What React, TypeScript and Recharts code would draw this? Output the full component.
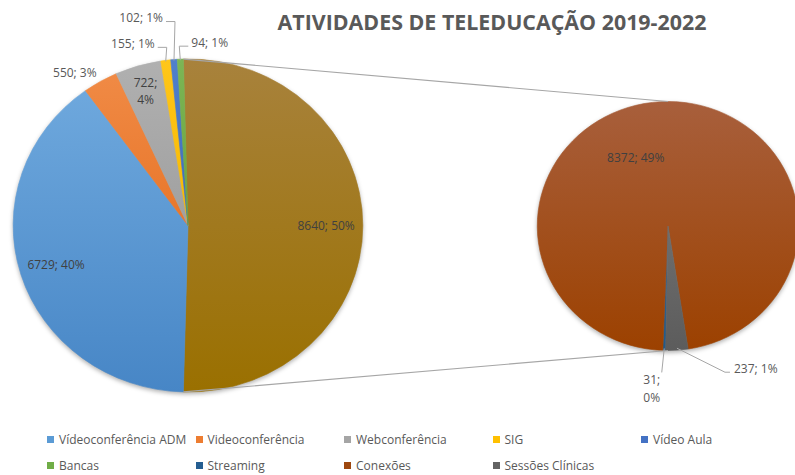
import React from "react";
import { PieChart, Pie, Cell, Sector } from "recharts";

// primary pie (everything except the split-off group)
const primaryNames = ["Vídeoconferência ADM", "Videoconferência", "Webconferência", "SIG", "Vídeo Aula", "Bancas"];
const primaryValues = [6729, 550, 722, 155, 102, 94];
const primaryPct = [40, 3, 4, 1, 1, 1];

// secondary pie (the "other" slice broken down)
const secondaryNames = ["Streaming", "Conexões", "Sessões Clínicas"];
const secondaryValues = [31, 8372, 237];
const secondaryPct = [0, 49, 1];
const otherPct = 50;

const legendOrder = [
  "Vídeoconferência ADM",
  "Videoconferência",
  "Webconferência",
  "SIG",
  "Vídeo Aula",
  "Bancas",
  "Streaming",
  "Conexões",
  "Sessões Clínicas",
];

const colors: Record<string, [string, string]> = {
  "Vídeoconferência ADM": ["#6ea8dd", "#4786c6"],
  "Videoconferência": ["#f08a45", "#e8762a"],
  "Webconferência": ["#b0b0b0", "#a0a0a0"],
  "SIG": ["#ffc61a", "#f7b900"],
  "Vídeo Aula": ["#5080cc", "#3f6bbb"],
  "Bancas": ["#7cb655", "#68a33f"],
  "Streaming": ["#2f6a9e", "#225988"],
  "Conexões": ["#a85f3c", "#9c4100"],
  "Sessões Clínicas": ["#6e6e6e", "#5c5c5c"],
  Outros: ["#a8823c", "#9a7000"],
};
const legendColors: Record<string, string> = {
  "Vídeoconferência ADM": "#5b9bd5",
  "Videoconferência": "#ed7d31",
  "Webconferência": "#a5a5a5",
  "SIG": "#ffc000",
  "Vídeo Aula": "#4472c4",
  "Bancas": "#70ad47",
  "Streaming": "#255e91",
  "Conexões": "#9e480e",
  "Sessões Clínicas": "#636363",
};

const gid = (name: string) => "g" + legendOrder.concat(["Outros"]).indexOf(name);

const otherTotal = secondaryValues.reduce((a, b) => a + b, 0);
const mainData = [{ name: "Outros", value: otherTotal, pct: otherPct }].concat(
  primaryNames.map((n, i) => ({ name: n, value: primaryValues[i], pct: primaryPct[i] }))
);
const secData = secondaryNames.map((n, i) => ({ name: n, value: secondaryValues[i], pct: secondaryPct[i] }));
const mainTotal = mainData.reduce((a, d) => a + d.value, 0);

const SX = 1.05;
const RAD = Math.PI / 180;
const MAIN = { cx: 188, cy: 225.5, r: 166.5 };
const SEC = { cx: 668, cy: 226, r: 124.5 };
const otherSpan = (otherTotal / mainTotal) * 360;
const MAIN_START = otherSpan / 2;
const SEC_START = 269;

const pt = (cx: number, cy: number, r: number, a: number) => ({
  x: cx + SX * r * Math.cos(-a * RAD),
  y: cy + r * Math.sin(-a * RAD),
});

const ellipseShape = (props: any) => (
  <g transform={`translate(${props.cx} ${props.cy}) scale(${SX} 1) translate(${-props.cx} ${-props.cy})`}>
    <Sector {...props} stroke={props.fill} strokeWidth={0.6} />
  </g>
);

const txt = { fontFamily: "'Open Sans', sans-serif", fontSize: 12 };
const inFill = "#404040";
const outFill = "#595959";
const lineCol = "#a6a6a6";

function mainLabel(p: any) {
  const { cx, cy, midAngle, index } = p;
  const d = mainData[index];
  const label = `${d.value}; ${d.pct}%`;
  const R = MAIN.r;
  if (index === 0 || index === 1) {
    const c = pt(cx, cy, R * 0.79, midAngle);
    const extra =
      index === 0 ? (
        <g>
          {/* connector lines to the secondary pie */}
          <line x1={pt(cx, cy, R, MAIN_START).x} y1={pt(cx, cy, R, MAIN_START).y} x2={SEC.cx} y2={SEC.cy - SEC.r}
            stroke={lineCol} strokeWidth={1.2} />
          <line x1={pt(cx, cy, R, MAIN_START - otherSpan).x} y1={pt(cx, cy, R, MAIN_START - otherSpan).y}
            x2={SEC.cx} y2={SEC.cy + SEC.r} stroke={lineCol} strokeWidth={1.2} />
        </g>
      ) : null;
    return (
      <g>
        {extra}
        <text x={c.x} y={c.y} textAnchor="middle" dominantBaseline="central" fill={inFill} style={txt}>
          {label}
        </text>
      </g>
    );
  }
  if (index === 2) {
    const c = pt(cx, cy, R * 1.126, midAngle + 5);
    return (
      <text x={c.x} y={c.y} textAnchor="middle" dominantBaseline="central" fill={outFill} style={txt}>
        {label}
      </text>
    );
  }
  if (index === 3) {
    const c = pt(cx, cy, R * 0.85, midAngle);
    return (
      <text x={c.x} y={c.y} textAnchor="middle" fill={inFill} style={txt}>
        <tspan x={c.x} dy={-3}>{`${d.value};`}</tspan>
        <tspan x={c.x} dy={17}>{`${d.pct}%`}</tspan>
      </text>
    );
  }
  // small slices with elbow leader lines
  const lift = index === 5 ? 38 : 13;
  const side = index === 6 ? 1 : -1;
  const e = pt(cx, cy, R, midAngle);
  const ey = e.y - lift;
  const hx = e.x + side * 8;
  return (
    <g>
      <polyline points={`${e.x},${e.y + 1} ${e.x - side * 1},${ey} ${hx},${ey}`} fill="none" stroke={lineCol} strokeWidth={1} />
      <text x={hx + side * 3} y={ey - 4} textAnchor={side < 0 ? "end" : "start"} dominantBaseline="central"
        fill={outFill} style={txt}>
        {label}
      </text>
    </g>
  );
}

function secLabel(p: any) {
  const { cx, cy, midAngle, index } = p;
  const d = secData[index];
  const R = SEC.r;
  if (index === 1) {
    const c = pt(cx, cy, R * 0.6, midAngle + 21);
    return (
      <text x={c.x} y={c.y} textAnchor="middle" dominantBaseline="central" fill={inFill} style={txt}>
        {`${d.value}; ${d.pct}%`}
      </text>
    );
  }
  const e = pt(cx, cy, R, midAngle);
  if (index === 0) {
    const end = { x: e.x - 2.5, y: e.y + 22 };
    return (
      <g>
        <line x1={e.x} y1={e.y - 2} x2={end.x} y2={end.y} stroke={lineCol} strokeWidth={1} />
        <text x={end.x - 10} y={end.y + 7} textAnchor="middle" dominantBaseline="central" fill={outFill} style={txt}>
          {`${d.value};`}
        </text>
        <text x={end.x - 10} y={end.y + 25} textAnchor="middle" dominantBaseline="central" fill={outFill} style={txt}>
          {`${d.pct}%`}
        </text>
      </g>
    );
  }
  const el = { x: e.x + 48, y: e.y + 22 };
  return (
    <g>
      <polyline points={`${e.x},${e.y - 2} ${el.x},${el.y} ${el.x + 5},${el.y}`} fill="none" stroke={lineCol} strokeWidth={1} />
      <text x={el.x + 9} y={el.y - 4} textAnchor="start" dominantBaseline="central" fill={outFill} style={txt}>
        {`${d.value}; ${d.pct}%`}
      </text>
    </g>
  );
}

export default function App() {
  return (
    <div style={{ position: "absolute", left: 0, top: 0, width: 795, height: 475, background: "#fff", overflow: "hidden" }}>
      <style>{`.recharts-pie > g:not(.recharts-pie-labels) { filter: drop-shadow(0px 2px 2px rgba(0,0,0,0.3)); }`}</style>
      <svg width={0} height={0} style={{ position: "absolute" }}>
        <defs>
          {Object.keys(colors).map((k) => (
            <linearGradient key={k} id={gid(k)} x1="0" y1="0" x2="0" y2="1">
              <stop offset="0%" stopColor={colors[k][0]} />
              <stop offset="100%" stopColor={colors[k][1]} />
            </linearGradient>
          ))}
        </defs>
      </svg>
      <div
        style={{
          position: "absolute",
          left: 266,
          top: 8,
          width: 452,
          textAlign: "center",
          fontFamily: "'Open Sans', sans-serif",
          fontWeight: 700,
          fontSize: 21.4,
          lineHeight: "28px",
          color: "#595959",
          whiteSpace: "nowrap",
        }}
      >
        ATIVIDADES DE TELEDUCAÇÃO 2019-2022
      </div>
      <div style={{ position: "absolute", left: 0, top: 0 }}>
        <PieChart width={795} height={420} margin={{ top: 0, right: 0, bottom: 0, left: 0 }}>
          <Pie
            data={mainData}
            dataKey="value"
            nameKey="name"
            cx={MAIN.cx}
            cy={MAIN.cy}
            outerRadius={MAIN.r}
            startAngle={MAIN_START}
            endAngle={MAIN_START - 360}
            stroke="none"
            shape={ellipseShape}
            label={mainLabel}
            labelLine={false}
            isAnimationActive={false}
          >
            {mainData.map((d) => (
              <Cell key={d.name} fill={`url(#${gid(d.name)})`} />
            ))}
          </Pie>
          <Pie
            data={secData}
            dataKey="value"
            nameKey="name"
            cx={SEC.cx}
            cy={SEC.cy}
            outerRadius={SEC.r}
            startAngle={SEC_START}
            endAngle={SEC_START - 360}
            stroke="none"
            shape={ellipseShape}
            label={secLabel}
            labelLine={false}
            isAnimationActive={false}
          >
            {secData.map((d) => (
              <Cell key={d.name} fill={`url(#${gid(d.name)})`} />
            ))}
          </Pie>
        </PieChart>
      </div>
      {legendOrder.map((n, i) => {
        const col = i % 5;
        const row = Math.floor(i / 5);
        return (
          <div
            key={n}
            style={{
              position: "absolute",
              left: 47 + col * 148.5,
              top: 439 + row * 26 - 9,
              height: 18,
              display: "flex",
              alignItems: "center",
              fontFamily: "'Open Sans', sans-serif",
              fontSize: 12,
              color: "#595959",
              whiteSpace: "nowrap",
            }}
          >
            <span style={{ width: 7, height: 7, background: legendColors[n], marginRight: 5, display: "inline-block" }} />
            {n}
          </div>
        );
      })}
    </div>
  );
}
